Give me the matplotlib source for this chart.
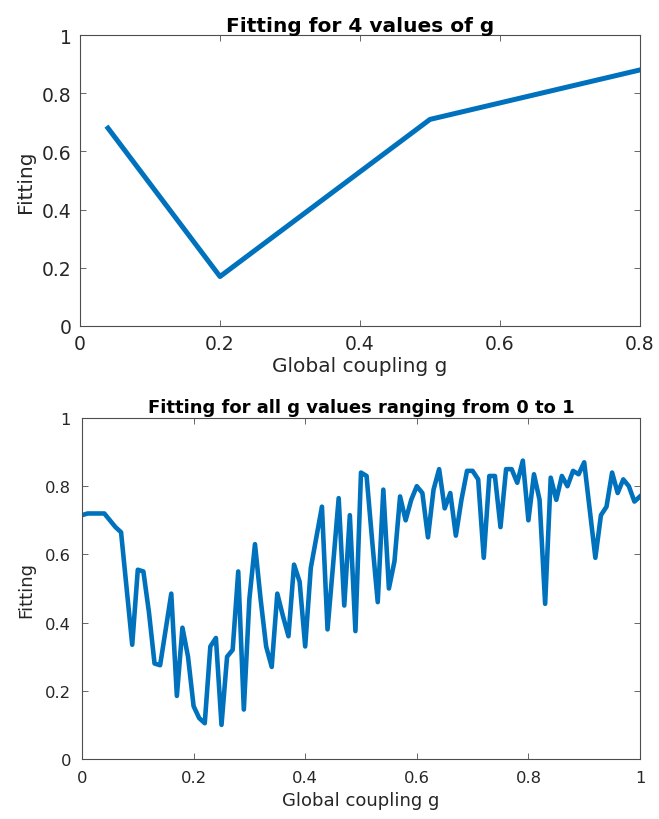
import matplotlib
matplotlib.use("Agg")
import matplotlib.pyplot as plt
import numpy as np

# Top panel data
g_four = [0.04, 0.2, 0.5, 0.8]
fit_four = [0.68, 0.17, 0.71, 0.88]

# Bottom panel data
g_all = [round(i * 0.01, 2) for i in range(101)]
fit_all = [
    0.715, 0.72, 0.72, 0.72, 0.72, 0.70, 0.68, 0.665, 0.50, 0.335,
    0.555, 0.55, 0.43, 0.28, 0.275, 0.38, 0.485, 0.185, 0.385, 0.30,
    0.155, 0.12, 0.105, 0.33, 0.355, 0.10, 0.30, 0.32, 0.55, 0.145,
    0.47, 0.63, 0.47, 0.33, 0.27, 0.485, 0.42, 0.36, 0.57, 0.52,
    0.33, 0.56, 0.65, 0.74, 0.38, 0.57, 0.765, 0.45, 0.715, 0.375,
    0.84, 0.83, 0.64, 0.46, 0.79, 0.50, 0.58, 0.77, 0.70, 0.76,
    0.80, 0.78, 0.65, 0.79, 0.85, 0.735, 0.78, 0.655, 0.76, 0.845,
    0.845, 0.82, 0.59, 0.83, 0.83, 0.68, 0.85, 0.85, 0.81, 0.875,
    0.70, 0.835, 0.76, 0.455, 0.825, 0.76, 0.83, 0.80, 0.845, 0.835,
    0.87, 0.73, 0.59, 0.715, 0.74, 0.84, 0.78, 0.82, 0.80, 0.755,
    0.77,
]

top_xticks = [0, 0.2, 0.4, 0.6, 0.8]
top_xticklabels = ["0", "0.2", "0.4", "0.6", "0.8"]
bot_xticks = [0, 0.2, 0.4, 0.6, 0.8, 1]
bot_xticklabels = ["0", "0.2", "0.4", "0.6", "0.8", "1"]
yticks = [0, 0.2, 0.4, 0.6, 0.8, 1]
yticklabels = ["0", "0.2", "0.4", "0.6", "0.8", "1"]

plt.rcParams['font.family'] = ['DejaVu Sans']
LINE = '#0072BD'
TXT = '#262626'
AX = '#4d4d4d'

fig = plt.figure(figsize=(6.59, 8.2), dpi=100)

def style(ax, fs, pad):
    for s in ax.spines.values():
        s.set_color(AX)
        s.set_linewidth(0.8)
    ax.tick_params(direction='in', top=True, right=True, length=4,
                   width=0.6, colors=AX, labelcolor=TXT, labelsize=fs, pad=pad)

ax1 = fig.add_axes([80/659, 1-327/820, (640-80)/659, (327-36)/820])
ax1.plot(g_four, fit_four, color=LINE, lw=3.6)
ax1.set_xlim(0, 0.8)
ax1.set_ylim(0, 1)
ax1.set_xticks(top_xticks)
ax1.set_xticklabels(top_xticklabels)
ax1.set_yticks(yticks)
ax1.set_yticklabels(yticklabels)
style(ax1, 13.5, 6)
ax1.set_title("Fitting for 4 values of g", fontsize=14.5, fontweight='bold', color='black', pad=3)
ax1.set_xlabel("Global coupling g", fontsize=14.5, color=TXT, labelpad=2)
ax1.set_ylabel("Fitting", fontsize=14.5, color=TXT, labelpad=5)

ax2 = fig.add_axes([82/659, 1-760/820, (640-82)/659, (760-419)/820])
ax2.plot(g_all, fit_all, color=LINE, lw=3.3)
ax2.set_xlim(0, 1)
ax2.set_ylim(0, 1)
ax2.set_xticks(bot_xticks)
ax2.set_xticklabels(bot_xticklabels)
ax2.set_yticks(yticks)
ax2.set_yticklabels(yticklabels)
style(ax2, 11.8, 8)
ax2.set_title("Fitting for all g values ranging from 0 to 1", fontsize=13, fontweight='bold', color='black', pad=4)
ax2.set_xlabel("Global coupling g", fontsize=13, color=TXT, labelpad=4)
ax2.set_ylabel("Fitting", fontsize=13, color=TXT, labelpad=7)

fig.savefig("out.png", dpi=100)
